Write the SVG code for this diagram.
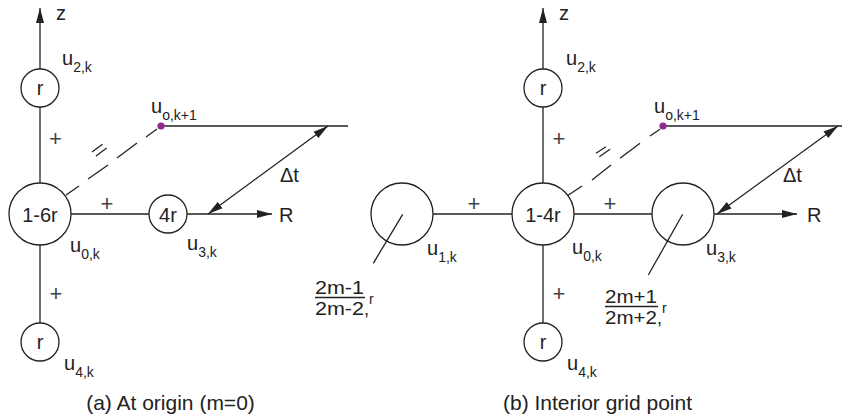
<svg xmlns="http://www.w3.org/2000/svg" width="842" height="417" viewBox="0 0 842 417">
<style>
text{font-family:"Liberation Sans",Arial,sans-serif;fill:#222;}
.lbl{font-size:20px;}
.ctr{text-anchor:middle;}
.sub{font-size:14px;}
.frac{font-size:18px;}
.pl{font-size:22px;text-anchor:middle;fill:#444;}
.cap{font-size:21px;text-anchor:middle;}
.ln{stroke:#222;stroke-width:1.3;fill:none;}
.nd{stroke:#222;stroke-width:1.3;fill:#fff;}
.dot{fill:#8e2a8e;}
</style>
<defs>
<marker id="ah" markerUnits="userSpaceOnUse" markerWidth="16" markerHeight="10" refX="15" refY="4" orient="auto-start-reverse" viewBox="0 0 16 8">
<path d="M0,0 L15,4 L0,8 z" fill="#222"/>
</marker>
</defs>
<rect width="842" height="417" fill="#fff"/>

<g id="connectors">
<!-- (a) -->
<line class="ln" x1="40" y1="8" x2="40" y2="69" marker-start="url(#ah)"/>
<line class="ln" x1="40" y1="107" x2="40" y2="183"/>
<line class="ln" x1="40" y1="245" x2="40" y2="324"/>
<line class="ln" x1="71" y1="214" x2="149" y2="214"/>
<line class="ln" x1="187" y1="214" x2="272" y2="214" marker-end="url(#ah)"/>
<line class="ln" x1="161" y1="126" x2="348" y2="126"/>
<line class="ln" x1="328" y1="126" x2="208" y2="214" marker-start="url(#ah)" marker-end="url(#ah)"/>
<g class="ln">
<line x1="66" y1="195" x2="79" y2="186"/>
<line x1="88" y1="179" x2="108" y2="165"/>
<line x1="117" y1="158" x2="137" y2="143"/>
<line x1="146" y1="137" x2="157" y2="129"/>
<line x1="92" y1="152" x2="102.5" y2="144.3"/>
<line x1="96" y1="156" x2="106.7" y2="148"/>
</g>
<circle class="dot" cx="161" cy="126" r="3.6"/>
<!-- (b) -->
<line class="ln" x1="543" y1="8" x2="543" y2="69" marker-start="url(#ah)"/>
<line class="ln" x1="543" y1="107" x2="543" y2="183"/>
<line class="ln" x1="543" y1="245" x2="543" y2="323"/>
<line class="ln" x1="433" y1="214" x2="512" y2="214"/>
<line class="ln" x1="574" y1="214" x2="652" y2="214"/>
<line class="ln" x1="714" y1="214" x2="797" y2="214" marker-end="url(#ah)"/>
<line class="ln" x1="663" y1="126" x2="842" y2="126"/>
<line class="ln" x1="838" y1="126" x2="717" y2="214" marker-start="url(#ah)" marker-end="url(#ah)"/>
<g class="ln">
<line x1="567" y1="196" x2="582" y2="186"/>
<line x1="592" y1="180" x2="611" y2="165"/>
<line x1="620" y1="158.3" x2="640" y2="143.3"/>
<line x1="650" y1="136" x2="660" y2="129.3"/>
<line x1="596" y1="153.3" x2="606" y2="146.7"/>
<line x1="599.3" y1="156.7" x2="610" y2="149.3"/>
</g>
<circle class="dot" cx="663" cy="126" r="3.6"/>
</g>

<!-- (a) nodes -->
<g id="a-u2k">
<circle class="nd" cx="40" cy="88" r="19"/>
<text class="lbl ctr" x="40" y="95">r</text>
</g>
<g id="a-u0k">
<circle class="nd" cx="40" cy="214" r="31"/>
<text class="lbl ctr" x="40" y="222">1-6r</text>
</g>
<g id="a-u3k">
<circle class="nd" cx="168" cy="214" r="19"/>
<text class="lbl ctr" x="168" y="222">4r</text>
</g>
<g id="a-u4k">
<circle class="nd" cx="40" cy="342" r="19"/>
<text class="lbl ctr" x="40" y="349">r</text>
</g>

<!-- (b) nodes -->
<g id="b-u2k">
<circle class="nd" cx="543" cy="88" r="19"/>
<text class="lbl ctr" x="543" y="95">r</text>
</g>
<g id="b-u1k">
<circle class="nd" cx="402" cy="214" r="31"/>
</g>
<g id="b-u0k">
<circle class="nd" cx="543" cy="214" r="31"/>
<text class="lbl ctr" x="543" y="222">1-4r</text>
</g>
<g id="b-u3k">
<circle class="nd" cx="683" cy="214" r="31"/>
</g>
<g id="b-u4k">
<circle class="nd" cx="543" cy="342" r="19"/>
<text class="lbl ctr" x="543" y="349">r</text>
</g>
<g id="b-leaders">
<line class="ln" x1="402.7" y1="214.3" x2="373.3" y2="263.3"/>
<line class="ln" x1="682.7" y1="214.3" x2="648.3" y2="275"/>
</g>

<!-- (a) labels -->
<g id="a-labels">
<text class="lbl" x="56" y="20">z</text>
<text class="lbl" x="62" y="65">u<tspan class="sub" dy="7">2,k</tspan></text>
<text class="lbl" x="151" y="113">u<tspan class="sub" dy="7">o,k+1</tspan></text>
<text class="pl" x="55.5" y="146">+</text>
<text class="pl" x="107" y="211">+</text>
<text class="pl" x="56" y="301">+</text>
<text class="lbl" x="279" y="222">R</text>
<text class="lbl" x="280" y="182">Δt</text>
<text class="lbl" x="70" y="252">u<tspan class="sub" dy="7">0,k</tspan></text>
<text class="lbl" x="187" y="250">u<tspan class="sub" dy="7">3,k</tspan></text>
<text class="lbl" x="64" y="370">u<tspan class="sub" dy="7">4,k</tspan></text>
<text class="cap" x="170.5" y="410">(a) At origin (m=0)</text>
</g>

<!-- (b) labels -->
<g id="b-labels">
<text class="lbl" x="559" y="20">z</text>
<text class="lbl" x="566" y="65">u<tspan class="sub" dy="7">2,k</tspan></text>
<text class="lbl" x="654" y="113">u<tspan class="sub" dy="7">o,k+1</tspan></text>
<text class="pl" x="559" y="146">+</text>
<text class="pl" x="474" y="211">+</text>
<text class="pl" x="610" y="211">+</text>
<text class="pl" x="559" y="301">+</text>
<text class="lbl" x="807" y="222">R</text>
<text class="lbl" x="783" y="182">Δt</text>
<text class="lbl" x="427" y="255">u<tspan class="sub" dy="7">1,k</tspan></text>
<text class="lbl" x="572" y="254">u<tspan class="sub" dy="7">0,k</tspan></text>
<text class="lbl" x="706" y="255">u<tspan class="sub" dy="7">3,k</tspan></text>
<text class="lbl" x="567" y="370">u<tspan class="sub" dy="7">4,k</tspan></text>
<text class="frac" x="315" y="294" textLength="49" lengthAdjust="spacingAndGlyphs">2m-1</text>
<line class="ln" x1="315" y1="297.5" x2="365" y2="297.5"/>
<text class="frac" x="315" y="315"><tspan textLength="49" lengthAdjust="spacingAndGlyphs">2m-2</tspan><tspan>,</tspan><tspan class="sub" dy="-11">r</tspan></text>
<text class="frac" x="605" y="303" textLength="52" lengthAdjust="spacingAndGlyphs">2m+1</text>
<line class="ln" x1="605" y1="306.5" x2="658" y2="306.5"/>
<text class="frac" x="605" y="324"><tspan textLength="52" lengthAdjust="spacingAndGlyphs">2m+2</tspan><tspan>,</tspan><tspan class="sub" dy="-11">r</tspan></text>
<text class="cap" x="597.5" y="410">(b) Interior grid point</text>
</g>
</svg>
